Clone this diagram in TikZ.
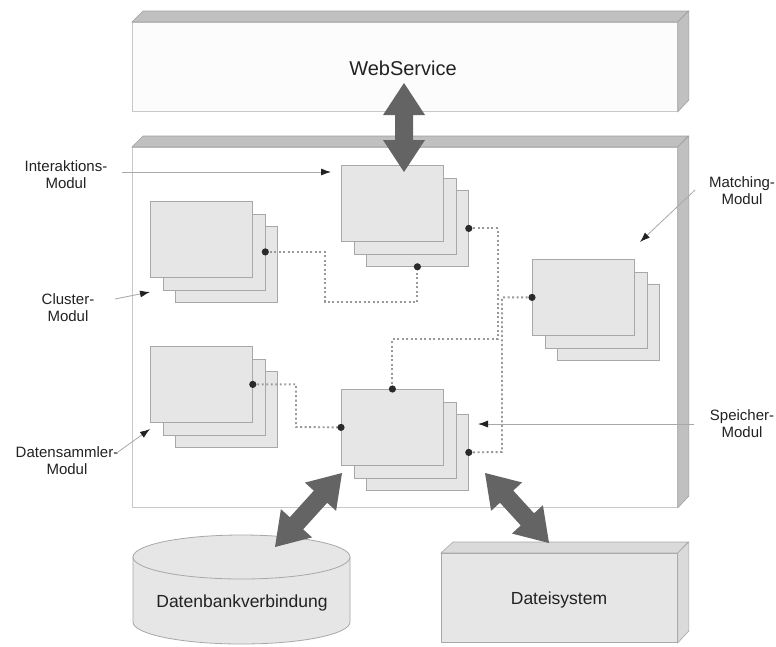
\documentclass[tikz,border=0pt]{standalone}
\usepackage{fontspec}
\setmainfont{Liberation Sans}
\usetikzlibrary{calc,arrows.meta}
\definecolor{boxfill}{HTML}{E6E6E6}
\definecolor{boxline}{HTML}{A8A8A8}
\definecolor{facefill}{HTML}{C0C0C0}
\definecolor{faceline}{HTML}{A0A0A0}
\definecolor{paleline}{HTML}{C8C8C8}
\definecolor{arrowgray}{HTML}{646464}
\definecolor{dotline}{HTML}{999999}
\definecolor{dotfill}{HTML}{2A2A2A}
\definecolor{thinline}{HTML}{A8A8A8}
\definecolor{txt}{HTML}{222222}
\definecolor{dsface}{HTML}{DADADA}

\newcommand\bigdbl[2]{%
 \fill[arrowgray] (#1)
  -- ($(#1)!32pt!(#2)!21pt!90:(#2)$) -- ($(#1)!32pt!(#2)!9pt!90:(#2)$)
  -- ($(#2)!32pt!(#1)!9pt!-90:(#1)$) -- ($(#2)!32pt!(#1)!21pt!-90:(#1)$)
  -- (#2)
  -- ($(#2)!32pt!(#1)!21pt!90:(#1)$) -- ($(#2)!32pt!(#1)!9pt!90:(#1)$)
  -- ($(#1)!32pt!(#2)!9pt!-90:(#2)$) -- ($(#1)!32pt!(#2)!21pt!-90:(#2)$)
  -- cycle;}

\newcommand\modstack[3]{%
 \node[modbox] (#1c) at (#2+25,#3+25) {};
 \node[modbox] (#1b) at (#2+12.5,#3+12.5) {};
 \node[modbox] (#1a) at (#2,#3) {};}

\tikzset{
 modbox/.style={rectangle, anchor=north west, minimum width=102pt, minimum height=76pt,
   inner sep=0pt, fill=boxfill, draw=boxline, line width=0.8pt},
 frontbox/.style={rectangle, anchor=north west, inner sep=0pt, line width=0.8pt},
 face/.style={fill=facefill, draw=faceline, line width=0.6pt},
 conn/.style={draw=dotline, line width=1.9pt, dash pattern=on 1.9pt off 2.6pt},
 pin/.style={draw=thinline, line width=0.8pt, -{Latex[length=10pt,width=7pt,color=txt]}},
 lbl/.style={font=\fontsize{15}{17}\selectfont, align=center, text=txt, inner sep=0pt},
 big/.style={font=\fontsize{17.5}{20}\selectfont, text=txt, inner sep=0pt},
}

\begin{document}
\begin{tikzpicture}[x=1pt,y=-1pt]
\useasboundingbox (0,0) rectangle (776,646);
\fill[white] (0,0) rectangle (776,646);

% WebService box
\node[frontbox, fill=white!99!black, draw=paleline, minimum width=545pt, minimum height=89pt] (ws) at (132,22) {};
\fill[face] (ws.north west) -- ++(11,-11) -- ++(545,0) -- (ws.north east) -- cycle;
\fill[face] (ws.north east) -- ++(11,-11) -- ++(0,89) -- (ws.south east) -- cycle;
\node[font=\fontsize{20}{24}\selectfont, text=txt] (wst) at (403,68) {WebService};

% main box
\node[frontbox, fill=white, draw=paleline, minimum width=545pt, minimum height=360pt] (main) at (132,147) {};
\fill[face] (main.north west) -- ++(11,-11) -- ++(545,0) -- (main.north east) -- cycle;
\fill[face] (main.north east) -- ++(11,-11) -- ++(0,360) -- (main.south east) -- cycle;

% module stacks
\modstack{i}{341}{165}
\modstack{c}{150}{201}
\modstack{m}{532}{259}
\modstack{d}{150}{346}
\modstack{s}{341}{389}

% dotted connectors
\draw[conn] (cb.east) -| (325,302) -| (ic.south);
\draw[conn] (ic.east) -| (498,339) -| (sa.north);
\draw[conn] (ma.west) -| (502,452) -- (sc.east);
\draw[conn] (da.east) -| (296,427) -- (sa.west);
\foreach \p in {cb.east, ic.south, ic.east, sa.north, ma.west, sc.east, da.east, sa.west}
  \fill[dotfill] (\p) circle[radius=3.6pt];

% labels
\node[lbl] (lint) at (66,175) {Interaktions-\\Modul};
\node[lbl] (lclu) at (68,308) {Cluster-\\Modul};
\node[lbl] (ldat) at (67,461) {Datensammler-\\Modul};
\node[lbl] (lmat) at (742,191) {Matching-\\Modul};
\node[lbl] (lspe) at (742,424) {Speicher-\\Modul};

\coordinate (pi0) at (122,172); \coordinate (pi1) at (331,172);
\coordinate (pc0) at (115,299); \coordinate (pc1) at (150,292);
\coordinate (pd0) at (118,452); \coordinate (pd1) at (150,429);
\coordinate (pm0) at (695,190); \coordinate (pm1) at (640,242);
\coordinate (ps0) at (694,424); \coordinate (ps1) at (478,424);
\draw[pin] (pi0) -- (pi1);
\draw[pin] (pc0) -- (pc1);
\draw[pin] (pd0) -- (pd1);
\draw[pin] (pm0) -- (pm1);
\draw[pin] (ps0) -- (ps1);

% database cylinder
\fill[boxfill] (133,557) -- (133,622) arc[start angle=180, end angle=360, x radius=108.5pt, y radius=22pt] -- (350,557) -- cycle;
\draw[boxline, line width=0.8pt] (133,557) -- (133,622) arc[start angle=180, end angle=360, x radius=108.5pt, y radius=22pt] -- (350,557);
\draw[boxline, line width=0.8pt, fill=boxfill] (241.5,557) ellipse[x radius=108.5pt, y radius=22pt];
\node[big] (db) at (242,603) {Datenbankverbindung};

% file system box
\node[frontbox, fill=boxfill, draw=boxline, minimum width=236pt, minimum height=89pt] (fs) at (441,553) {};
\filldraw[fill=dsface, draw=boxline, line width=0.6pt] (fs.north west) -- ++(12,-11) -- ++(235,0) -- (fs.north east) -- cycle;
\filldraw[fill=dsface, draw=boxline, line width=0.6pt] (fs.north east) -- ++(11,-11) -- ++(0,89) -- (fs.south east) -- cycle;
\node[big] (fst) at (559,600) {Dateisystem};

% big double arrows
\coordinate (wa0) at (404,83);  \coordinate (wa1) at (404,172);
\coordinate (da0) at (342,473); \coordinate (da1) at (275,547);
\coordinate (fa0) at (485,473); \coordinate (fa1) at (549,543);
\bigdbl{wa0}{wa1}
\bigdbl{da0}{da1}
\bigdbl{fa0}{fa1}
\end{tikzpicture}
\end{document}
